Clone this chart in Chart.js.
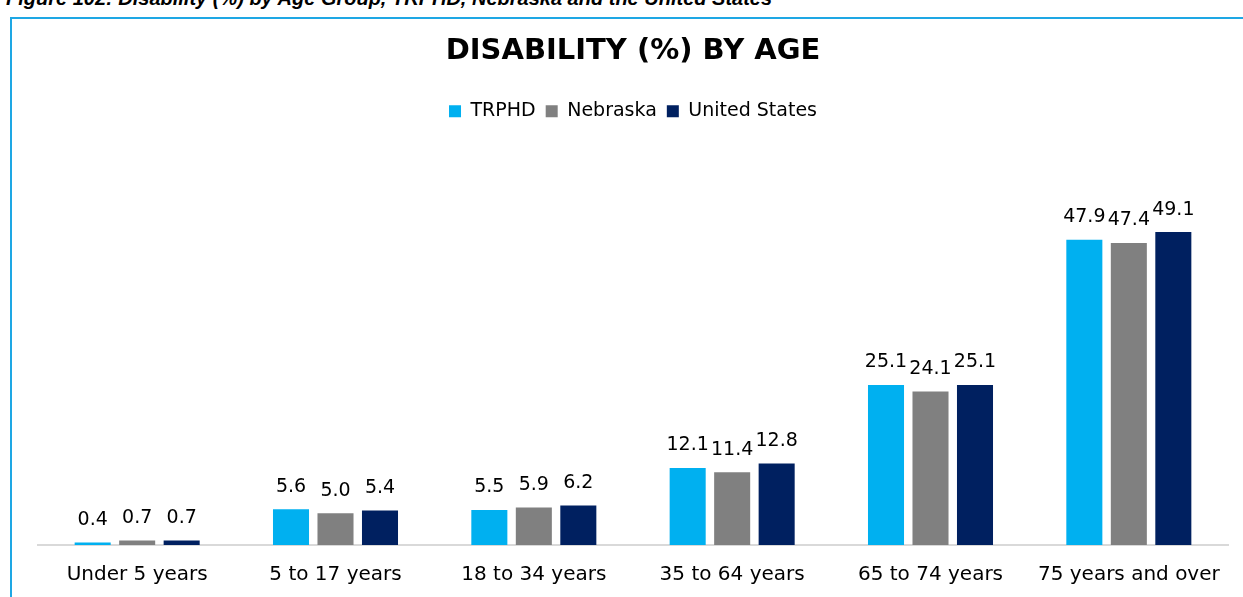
<!DOCTYPE html>
<html>
<head>
<meta charset="utf-8">
<script src="https://cdn.jsdelivr.net/npm/chart.js@4.4.1/dist/chart.umd.min.js"></script>
<style>
  body { margin: 0; background: #fff; overflow: hidden; }
  #caption {
    position: absolute; left: 6px; top: -13px;
    font: italic bold 20px "Liberation Sans", Arial, sans-serif; color: #000;
    white-space: nowrap;
  }
  #box {
    position: absolute; left: 10px; top: 17px; width: 1250px; height: 600px;
    border: 2px solid #1ea7e4; box-sizing: border-box;
  }
  #wrap { position: absolute; left: 12px; top: 19px; width: 1231px; height: 578px; }
</style>
</head>
<body>
<div id="caption">Figure 102: Disability (%) by Age Group, TRPHD, Nebraska and the United States</div>
<div id="box"></div>
<div id="wrap"><canvas id="chart"></canvas></div>
<script>
const categories = ["Under 5 years", "5 to 17 years", "18 to 34 years", "35 to 64 years", "65 to 74 years", "75 years and over"]
const trphd = [0.4, 5.6, 5.5, 12.1, 25.1, 47.9]
const nebraska = [0.7, 5.0, 5.9, 11.4, 24.1, 47.4]
const unitedStates = [0.7, 5.4, 6.2, 12.8, 25.1, 49.1]

const FONT = "'DejaVu Sans', sans-serif"

// draw the value above every bar
const barLabels = {
    id: "barLabels",
    afterDatasetsDraw (chart) {
        const ctx = chart.ctx
        ctx.save()
        ctx.font = "19px " + FONT
        ctx.fillStyle = "#000"
        ctx.textAlign = "center"
        ctx.textBaseline = "bottom"
        chart.data.datasets.forEach((ds, i) => {
            chart.getDatasetMeta(i).data.forEach((bar, j) => {
                ctx.fillText(ds.data[j].toFixed(1), bar.x, bar.y - 13)
            })
        })
        ctx.restore()
    }
}

const config = {
    type: "bar",
    data: {
        labels: categories,
        datasets: [
            { label: "TRPHD", data: trphd, backgroundColor: "#00b0f0" },
            { label: "Nebraska", data: nebraska, backgroundColor: "#808080" },
            { label: "United States", data: unitedStates, backgroundColor: "#002060" }
        ]
    },
    options: {
        responsive: true,
        maintainAspectRatio: false,
        animation: false,
        datasets: { bar: { categoryPercentage: 0.673, barPercentage: 0.81 } },
        layout: { padding: { left: 26, right: 15, top: 15, bottom: 0 } },
        plugins: {
            title: {
                display: true,
                text: "DISABILITY (%) BY AGE",
                color: "#000",
                font: { family: FONT, size: 29, weight: "bold" },
                padding: { top: 0, bottom: 23 }
            },
            legend: {
                labels: {
                    color: "#000",
                    font: { family: FONT, size: 19 },
                    boxWidth: 12, boxHeight: 12, padding: 10
                }
            },
            tooltip: { enabled: false }
        },
        scales: {
            x: {
                grid: { display: false },
                border: { color: "#d9d9d9", width: 2 },
                ticks: { color: "#000", font: { family: FONT, size: 20 }, padding: 10 }
            },
            y: { display: false, min: 0, max: 65 }
        }
    },
    plugins: [barLabels]
}

new Chart(document.getElementById("chart").getContext("2d"), config)
</script>
</body>
</html>
